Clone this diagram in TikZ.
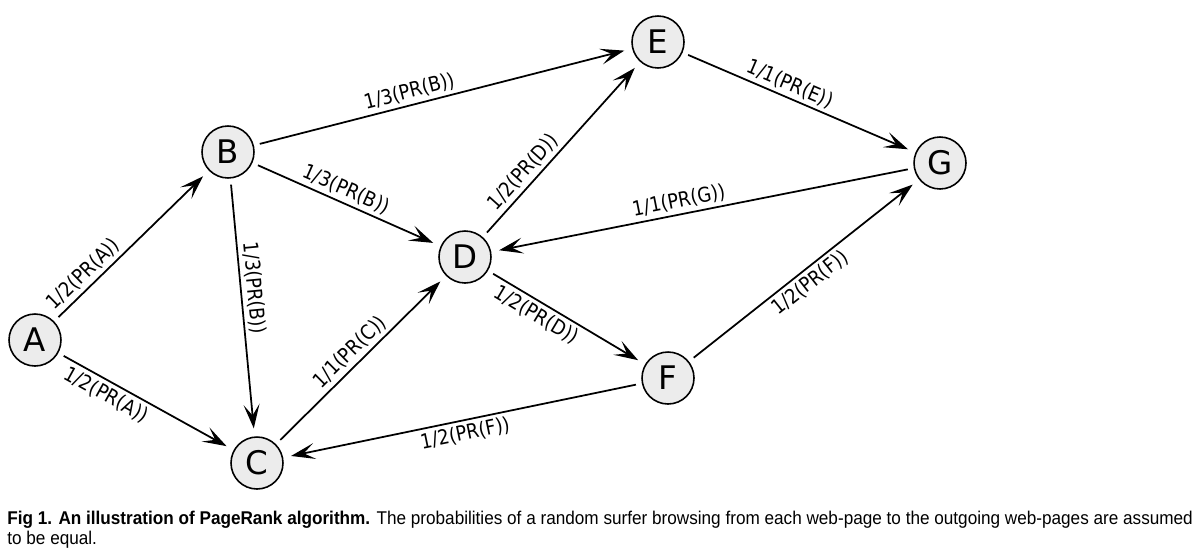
\documentclass[tikz,border=0pt]{standalone}
\usepackage{fontspec}
\setmainfont{DejaVu Sans}
\newfontfamily\edgefont[FakeStretch=0.88]{DejaVu Sans}
\newfontfamily\captionfont[FakeStretch=0.93]{Liberation Sans}
\usetikzlibrary{arrows.meta}

\begin{document}
\begin{tikzpicture}[x=0.02cm, y=-0.02cm]
		\tikzstyle{page}=[circle, draw, line width=0.9pt, fill=gray!15, minimum size=1.04cm, inner sep=0pt, font=\fontsize{18.5}{20}\selectfont];
		\tikzstyle{link}=[line width=1pt, -{Stealth[length=0.48cm, width=0.32cm, inset=0.22cm]}, shorten <=0.12cm, shorten >=0.16cm];
		\tikzstyle{prob}=[sloped, inner sep=2pt, font=\edgefont\fontsize{11.6}{13}\selectfont];

		\useasboundingbox (0,0) rectangle (1195,549);

		\node[page] (A) at (35,340) {A};
		\node[page] (B) at (228,152) {B};
		\node[page] (C) at (257,463) {C};
		\node[page] (D) at (465,257) {D};
		\node[page] (E) at (658,42) {E};
		\node[page] (F) at (668,378) {F};
		\node[page] (G) at (940,163) {G};

		\draw[link] (A) -- node[prob, above, pos=0.25] {1/2(PR(A))} (B);
		\draw[link] (A) -- node[prob, below, pos=0.31] {1/2(PR(A))} (C);
		\draw[link] (B) -- node[prob, above, pos=0.43] {1/3(PR(B))} (C);
		\draw[link] (B) -- node[prob, above, pos=0.47] {1/3(PR(B))} (D);
		\draw[link] (B) -- node[prob, above, pos=0.42] {1/3(PR(B))} (E);
		\draw[link] (C) -- node[prob, above, pos=0.49] {1/1(PR(C))} (D);
		\draw[link] (D) -- node[prob, above, pos=0.32] {1/2(PR(D))} (E);
		\draw[link] (D) -- node[prob, below, pos=0.35] {1/2(PR(D))} (F);
		\draw[link] (E) -- node[prob, above, pos=0.44] {1/1(PR(E))} (G);
		\draw[link] (G) -- node[prob, above, pos=0.55] {1/1(PR(G))} (D);
		\draw[link] (F) -- node[prob, below, pos=0.49] {1/2(PR(F))} (G);
		\draw[link] (F) -- node[prob, below, pos=0.5] {1/2(PR(F))} (C);

		\node[anchor=north west, inner sep=0pt, align=left, font=\captionfont\fontsize{10.5}{11.4}\selectfont] (caption) at (7,511)
		{\textbf{Fig 1. An illustration of PageRank algorithm.} The probabilities of a random surfer browsing from each web-page to the outgoing web-pages are assumed\\to be equal.};
	\end{tikzpicture}
\end{document}
